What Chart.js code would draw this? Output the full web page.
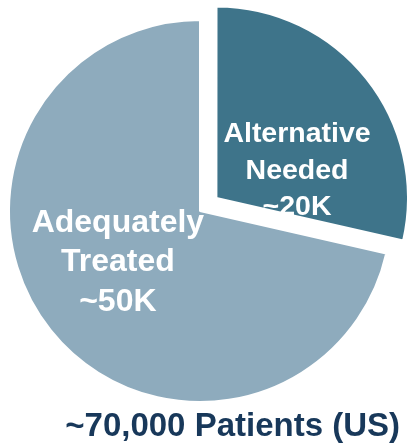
<!DOCTYPE html>
<html>
<head>
<meta charset="utf-8">
<style>
  html, body { margin: 0; padding: 0; background: #ffffff; }
  #wrap { width: 407px; height: 447px; }
</style>
<script src="https://cdn.jsdelivr.net/npm/chart.js@4/dist/chart.umd.min.js"></script>
</head>
<body>
<div id="wrap"><canvas id="pie" width="407" height="447"></canvas></div>
<script>
// Patient split (thousands)
const categories = ['Alternative Needed', 'Adequately Treated'];
const patients = [20, 50];
const sliceLines = [['Alternative', 'Needed', '~20K'], ['Adequately', 'Treated', '~50K']];
const titleText = '~70,000 Patients (US)';

const FONT = "'Liberation Sans', Arial, Helvetica, sans-serif";

// Label placement per slice, as fractions of the outer radius from the pie centre
const labelStyle = [
  { dx: 0.508, dy: -0.209, size: 28.5, lineGap: 36.5 },
  { dx: -0.43, dy: 0.27, size: 32, lineGap: 39.5 }
];

const sliceLabels = {
  id: 'sliceLabels',
  afterDatasetsDraw(chart) {
    const meta = chart.getDatasetMeta(0);
    const ctx = chart.ctx;
    ctx.save();
    ctx.fillStyle = '#ffffff';
    ctx.textAlign = 'center';
    ctx.textBaseline = 'middle';
    meta.data.forEach((arc, i) => {
      const { x, y, outerRadius } = arc.getProps(['x', 'y', 'outerRadius'], true);
      const st = labelStyle[i];
      const cx = x + st.dx * outerRadius;
      const cy = y + st.dy * outerRadius;
      const lines = sliceLines[i];
      ctx.font = 'bold ' + st.size + 'px ' + FONT;
      lines.forEach((t, k) => {
        ctx.fillText(t, cx, cy + (k - (lines.length - 1) / 2) * st.lineGap);
      });
    });
    ctx.restore();
  }
};

new Chart(document.getElementById('pie'), {
  type: 'pie',
  data: {
    labels: categories,
    datasets: [{
      data: patients,
      backgroundColor: ['#3e748a', '#8eabbd'],
      borderColor: '#ffffff',
      borderWidth: 2,
      // arc offset is applied at a quarter of this value (~21px pull-out)
      offset: [84, 0],
      hoverOffset: 0
    }]
  },
  options: {
    responsive: false,
    animation: false,
    events: [],
    radius: 191,
    layout: { padding: { top: 12, right: 7, bottom: 0, left: 0 } },
    plugins: {
      legend: { display: false },
      tooltip: { enabled: false },
      title: {
        display: true,
        text: titleText,
        position: 'bottom',
        align: 'end',
        color: '#18385a',
        font: { family: FONT, size: 33, weight: 'bold', lineHeight: 1 },
        padding: { top: 0, bottom: 4 }
      }
    }
  },
  plugins: [sliceLabels]
});
</script>
</body>
</html>
